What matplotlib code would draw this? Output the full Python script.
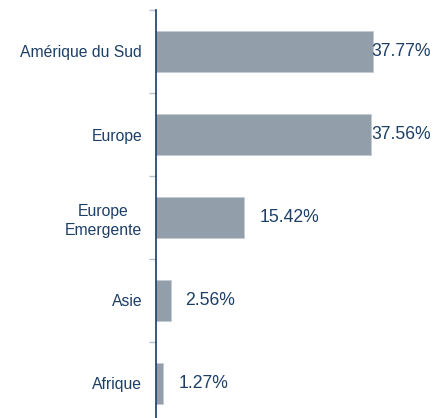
import matplotlib.pyplot as plt

categories = ["Amérique du Sud", "Europe", "Europe\nEmergente", "Asie", "Afrique"]
values = [37.77, 37.56, 15.42, 2.56, 1.27]
labels = ["37.77%", "37.56%", "15.42%", "2.56%", "1.27%"]

plt.rcParams['font.family'] = ['Liberation Sans', 'DejaVu Sans']

text_col = "#1d3f66"
bar_col = "#939eab"

fig = plt.figure(figsize=(4.47, 4.18), dpi=100)
W, H = 447, 418
# axes: x from 156 px to right edge, y bands from 10 px to 425 px
ax = fig.add_axes([156 / W, (H - 425) / H, (W - 156) / W, 415 / H])

pos = list(range(len(categories)))
ax.barh(pos, values, height=0.5, color=bar_col, edgecolor="#c4cbd3", linewidth=0.6)
ax.set_ylim(len(categories) - 0.5, -0.5)
ax.set_xlim(0, 291 / 5.737)

for i, (v, lab) in enumerate(zip(values, labels)):
    x = min(v + 2.6, 37.5)
    ax.text(x, i, lab, ha="left", va="center", fontsize=12.7, color=text_col)

ax.set_yticks(pos)
ax.set_yticklabels(categories, fontsize=11.3, color=text_col,
                   multialignment="center", linespacing=1.35)
ax.set_yticks([p - 0.5 for p in pos], minor=True)
ax.tick_params(axis="y", which="major", length=0, pad=10)
ax.tick_params(axis="y", which="minor", length=5, color="#b7c2cd", width=1)
ax.set_xticks([])

for s in ["top", "right", "bottom"]:
    ax.spines[s].set_visible(False)
ax.spines["left"].set_color("#173b63")
ax.spines["left"].set_linewidth(1.2)

fig.savefig("out.png", dpi=100)
